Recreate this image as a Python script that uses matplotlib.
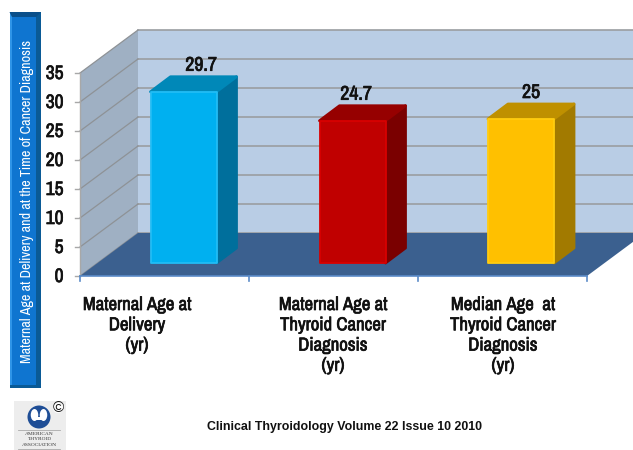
import matplotlib
matplotlib.use("Agg")
import matplotlib.pyplot as plt
import matplotlib.patheffects as pe
import numpy as np
from matplotlib.patches import Polygon, Rectangle, Ellipse

categories = ["Maternal Age at\nDelivery\n(yr)",
              "Maternal Age at\nThyroid Cancer\nDiagnosis\n(yr)",
              "Median Age  at\nThyroid Cancer\nDiagnosis\n(yr)"]
values = [29.7, 24.7, 25]
value_labels = ["29.7", "24.7", "25"]
front_colors = ["#00B0F0", "#C00000", "#FFC000"]
top_colors = ["#0088B8", "#960000", "#BF9000"]
side_colors = ["#006F9C", "#7A0000", "#A27A00"]
edge_colors = ["#22BDF5", "#D80000", "#FFCC10"]
y_ticks = [0, 5, 10, 15, 20, 25, 30, 35]
y_title = "Maternal Age at Delivery and at the Time of Cancer Diagnosis"
footer = "Clinical Thyroidology Volume 22 Issue 10 2010"

NARROW = ["Archivo Narrow", "Liberation Sans", "DejaVu Sans"]
PX = 5.8  # pixel per year
# the narrow font has only one weight here, so thicken it with a stroke
THICK = [pe.withStroke(linewidth=0.5, foreground="#111111")]

fig = plt.figure(figsize=(6.33, 4.5), dpi=100)
ax = fig.add_axes([0, 0, 1, 1])
# x in pixels, y in data units: 0 sits at pixel row 276
ax.set_xlim(0, 633)
ax.set_ylim(-(450 - 276) / PX, 276 / PX)
ax.axis("off")


def dy(px):
    return px / PX


def py(row):
    # pixel row to data y
    return (276 - row) / PX


x0, x1 = 80, 587
ddx, ddy = 58, dy(43)
ymax = y_ticks[-1]

# walls and floor
ax.add_patch(Polygon([(x0 + ddx, ddy), (633, ddy), (633, ymax + ddy), (x0 + ddx, ymax + ddy)],
                     fc="#B9CDE5", ec="none", zorder=1))
ax.add_patch(Polygon([(x0, 0), (x0 + ddx, ddy), (x0 + ddx, ymax + ddy), (x0, ymax)],
                     fc="#9FB0C3", ec="none", zorder=1))
ax.add_patch(Polygon([(x0, 0), (x1, 0), (x1 + ddx, ddy), (x0 + ddx, ddy)],
                     fc="#3B608F", ec="none", zorder=2))

for t in y_ticks:
    ax.plot([x0 + ddx, 633], [t + ddy, t + ddy], color="#9A9DA1", lw=1.2, zorder=1.5)
    ax.plot([x0, x0 + ddx], [t, t + ddy], color="#8E9296", lw=0.9, zorder=1.5)
    ax.plot([x0 - 5, x0], [t, t], color="#A8A8A8", lw=1, zorder=1.5)
    ax.text(63.5, t - dy(0.5), str(t), ha="right", va="center", fontsize=14,
            family=NARROW, color="#111111", path_effects=THICK)
ax.plot([x0, x0], [0, ymax], color="#A8A8A8", lw=1, zorder=1.6)
ax.plot([x0, x1], [0, 0], color="#5B8BC8", lw=1.2, zorder=3)
for x in np.linspace(x0, x1, len(categories) + 1):
    ax.plot([x, x], [0, dy(-5)], color="#5B8BC8", lw=1.2, zorder=3)

# bars
bar_left = [150.5, 319.5, 488]
bar_width = 66
base = dy(13)
bdx, bdy = 20, dy(15)
label_x = [201, 356, 531]
cat_x = [137, 333, 503]
for i, v in enumerate(values):
    l = bar_left[i]
    r = l + bar_width
    top = base + v - dy(1)
    ax.add_patch(Polygon([(r, base), (r + bdx, base + bdy), (r + bdx, top + bdy), (r, top)],
                         fc=side_colors[i], ec=side_colors[i], lw=2, joinstyle="round", zorder=4))
    ax.add_patch(Polygon([(l, top), (r, top), (r + bdx, top + bdy), (l + bdx, top + bdy)],
                         fc=top_colors[i], ec=top_colors[i], lw=2, joinstyle="round", zorder=4))
    ax.add_patch(Rectangle((l, base), bar_width, top - base, fc=front_colors[i],
                           ec=edge_colors[i], lw=1.3, joinstyle="round", zorder=5))
    ax.text(label_x[i], top + bdy + dy(2), value_labels[i], ha="center", va="bottom", fontsize=14.3,
            family=NARROW, color="#111111", path_effects=THICK, zorder=6)
    ax.text(cat_x[i], dy(-21), categories[i], ha="center", va="top", fontsize=13.5,
            family=NARROW, color="#111111", linespacing=1.33, path_effects=THICK, zorder=6)

# blue title panel
ax.add_patch(Rectangle((9.5, py(388)), 31.5, py(12) - py(388), fc="#0F75D0", ec="none", zorder=2))
ax.add_patch(Rectangle((36, py(388)), 5, py(12) - py(388), fc="#0A5A96", ec="none", zorder=2))
ax.add_patch(Rectangle((9.5, py(388)), 2.5, py(12) - py(388), fc="#2F95E8", ec="none", zorder=2))
ax.add_patch(Polygon([(9.5, py(12)), (41, py(12)), (36, py(17)), (12, py(17))],
                     fc="#0A4F8A", ec="none", zorder=2.1))
ax.add_patch(Rectangle((9.5, py(388)), 31.5, dy(3), fc="#0A5A96", ec="none", zorder=2.1))
ax.text(27, py(201), y_title, rotation=90, ha="center", va="center", fontsize=10.2,
        family=NARROW, color="white", zorder=3)

# logo
ax.add_patch(Rectangle((14, py(450)), 52, py(401) - py(450), fc="#EDEDED", ec="none", zorder=2))
ax.add_patch(Ellipse((39, py(417)), 23, dy(23), fc="#1F4E96", ec="none", zorder=3))
ax.add_patch(Ellipse((34.5, py(415)), 7.5, dy(12), fc="white", ec="none", zorder=4))
ax.add_patch(Ellipse((43.5, py(415)), 7.5, dy(12), fc="white", ec="none", zorder=4))
ax.add_patch(Rectangle((34, py(420)), 10, dy(3), fc="white", ec="none", zorder=4))
ax.add_patch(Polygon([(36, py(406)), (42, py(406)), (39, py(414))], fc="#1F4E96", ec="none", zorder=5))
ax.plot([18, 60], [py(430), py(430)], color="#AAAAAA", lw=0.6, zorder=3)
ax.plot([18, 60], [py(449), py(449)], color="#AAAAAA", lw=0.6, zorder=3)
ax.text(39.5, py(439.5), "AMERICAN\nTHYROID\nASSOCIATION", ha="center", va="center",
        fontsize=3.9, family="Liberation Serif", color="#333333", linespacing=1.35, zorder=3)
ax.add_patch(Ellipse((58, py(408)), 10, dy(10), fc="white", ec="none", zorder=5))
ax.text(58, py(408), "©", ha="center", va="center", fontsize=11, family="Liberation Sans",
        color="#111111", zorder=6)

ax.text(344.5, py(427), footer, ha="center", va="center", fontsize=8.9, fontweight="bold",
        family=["Liberation Sans", "DejaVu Sans"], color="#111111")

fig.savefig("out.png", dpi=100)
